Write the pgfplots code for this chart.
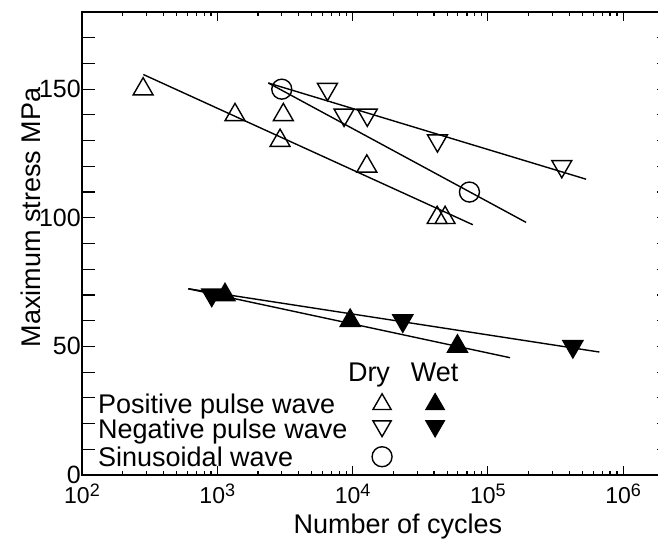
\documentclass[border=0pt]{standalone}
\usepackage{fontspec}
\setmainfont{Liberation Sans}
\usepackage{pgfplots}
\pgfplotsset{compat=1.18}
\newcommand{\expo}[1]{\raisebox{7pt}{\fontsize{18}{18}\selectfont #1}}
\begin{document}
\begin{tikzpicture}
\begin{axis}[
  xmode=log,
  scale only axis,
  width=588pt, height=463pt,
  xmin=100, xmax=2.22e6,
  ymin=0, ymax=180,
  axis line style={line width=2pt},
  tick pos=both,
  tick align=inside,
  tick style={line width=1.2pt, black},
  major tick length=12.7pt,
  xtick style={/pgfplots/major tick length=9pt, /pgfplots/minor tick length=4.5pt},
  xtick={1e2,1e3,1e4,1e5,1e6},
  xticklabels={10\expo{2},10\expo{3},10\expo{4},10\expo{5},10\expo{6}},
  minor xtick={200,300,400,500,600,700,800,900,2000,3000,4000,5000,6000,7000,8000,9000,20000,30000,40000,50000,60000,70000,80000,90000,200000,300000,400000,500000,600000,700000,800000,900000,2000000},
  ytick={0,10,20,30,40,50,60,70,80,90,100,110,120,130,140,150,160,170,180},
  yticklabels={0,,,,,50,,,,,100,,,,,150,,,},
  xticklabel style={font=\fontsize{23}{28}\selectfont, anchor=base, yshift=-28pt},
  yticklabel style={font=\fontsize{25}{30}\selectfont, inner xsep=1pt},
  xlabel={Number of cycles},
  ylabel={Maximum stress MPa},
  xlabel style={font=\fontsize{27}{32}\selectfont, at={(axis description cs:0.5374,0)}, anchor=base, yshift=-58pt},
  ylabel style={font=\fontsize{27}{32}\selectfont, at={(axis description cs:-0.0714,0.556)}, anchor=base},
  every axis plot/.append style={black},
]
% Positive pulse, dry
\addplot[only marks, mark=triangle, mark size=11.5pt, mark options={line width=1.4pt}] coordinates {
(283,150) (1352,140) (3078,140) (2911,130) (12740,120) (42200,100) (48300,100)};
\addplot[line width=1.4pt] coordinates {(284,155.7) (77400,97.3)};
% Negative pulse, dry
\addplot[only marks, mark=triangle, mark size=11.5pt, mark options={line width=1.4pt, rotate=180}] coordinates {
(6520,150) (8650,140) (12850,140) (42400,130) (352000,120)};
\addplot[line width=1.4pt] coordinates {(2384,152.4) (532000,115.0)};
% Sinusoidal, dry
\addplot[only marks, mark=o, mark size=10pt, mark options={line width=1.4pt}] coordinates {
(2996,150) (73100,110)};
\addplot[line width=1.4pt] coordinates {(2384,152.4) (191800,98.2)};
% Positive pulse, wet
\addplot[only marks, mark=triangle*, mark size=11.5pt, mark options={line width=1.4pt, fill=black}] coordinates {
(1140,70) (9600,60) (59600,50)};
\addplot[line width=1.4pt] coordinates {(611,72.4) (146000,45.6)};
% Negative pulse, wet
\addplot[only marks, mark=triangle*, mark size=11.5pt, mark options={line width=1.4pt, fill=black, rotate=180}] coordinates {
(910,70) (23500,60) (425000,50)};
\addplot[line width=1.4pt] coordinates {(611,72.4) (668000,47.8)};
% legend symbols
\addplot[only marks, mark=triangle, mark size=10.5pt, mark options={line width=1.4pt}] coordinates {(16520,27.5)};
\addplot[only marks, mark=triangle*, mark size=10.5pt, mark options={line width=1.4pt, fill=black}] coordinates {(40750,27.5)};
\addplot[only marks, mark=triangle, mark size=10.5pt, mark options={line width=1.4pt, rotate=180}] coordinates {(16520,19.0)};
\addplot[only marks, mark=triangle*, mark size=10.5pt, mark options={line width=1.4pt, fill=black, rotate=180}] coordinates {(40750,19.0)};
\addplot[only marks, mark=o, mark size=10pt, mark options={line width=1.4pt}] coordinates {(16520,7.1)};
% legend text
\node[anchor=base, font=\fontsize{27}{32}\selectfont, inner sep=0pt] at (rel axis cs:0.4881,0.2015) {Dry};
\node[anchor=base, font=\fontsize{27}{32}\selectfont, inner sep=0pt] at (rel axis cs:0.5998,0.2015) {Wet};
\node[anchor=base west, font=\fontsize{27}{32}\selectfont, inner sep=0pt] at (rel axis cs:0.0272,0.1339) {Positive pulse wave};
\node[anchor=base west, font=\fontsize{27}{32}\selectfont, inner sep=0pt] at (rel axis cs:0.0272,0.0799) {Negative pulse wave};
\node[anchor=base west, font=\fontsize{27}{32}\selectfont, inner sep=0pt] at (rel axis cs:0.0272,0.0173) {Sinusoidal wave};
\coordinate (sw) at (rel axis cs:0,0);
\coordinate (ne) at (rel axis cs:1,1);
\end{axis}
\pgfresetboundingbox
\path ([shift={(-82pt,-63pt)}]sw) rectangle ([shift={(-12pt,12pt)}]ne);
\end{tikzpicture}
\end{document}
